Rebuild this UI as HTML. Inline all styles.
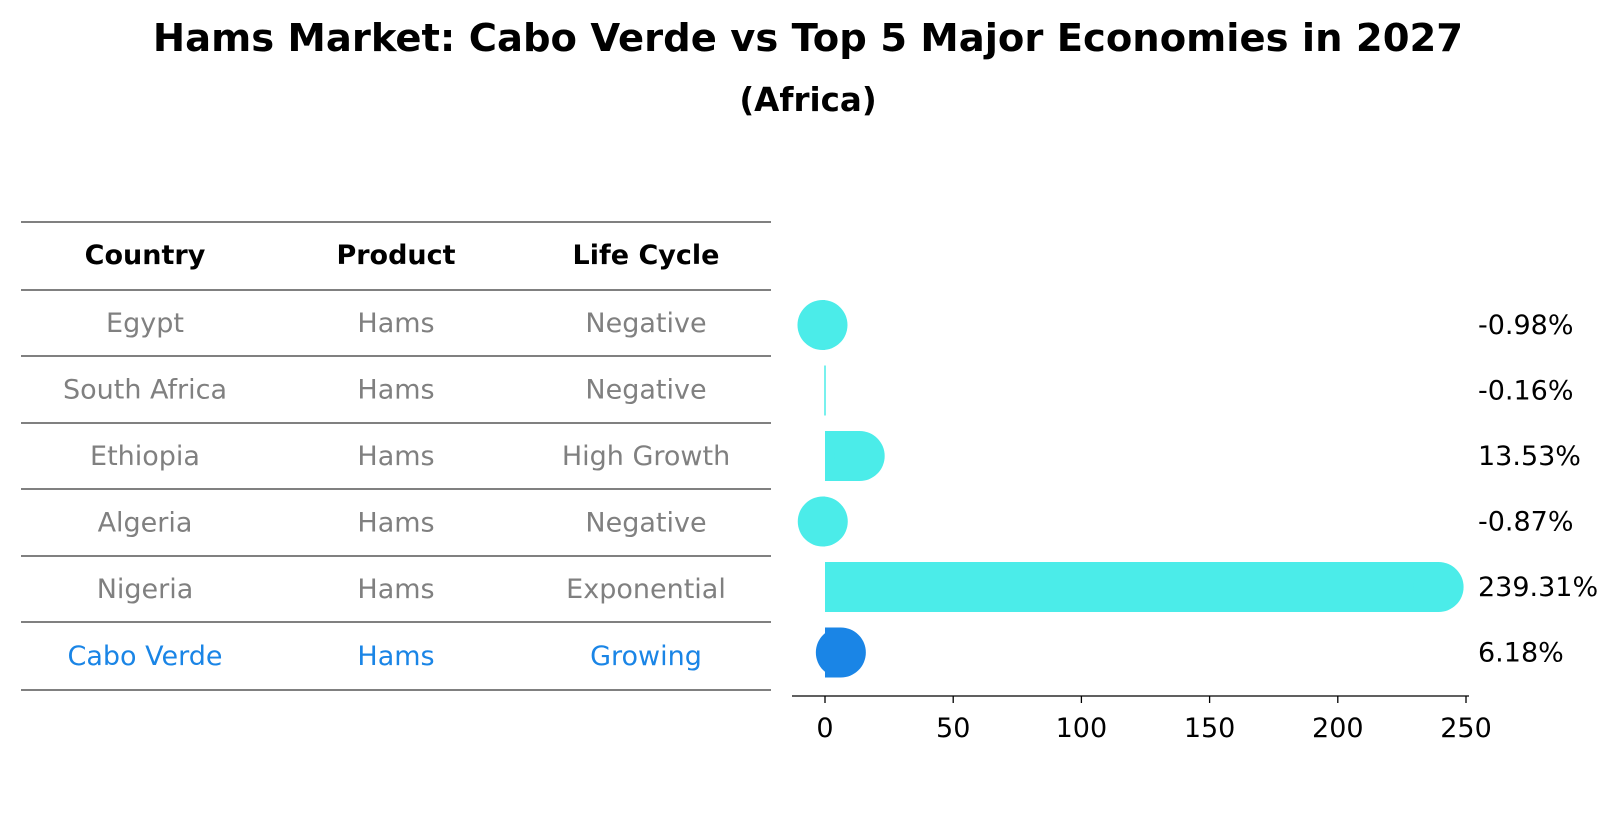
<!DOCTYPE html>
<html><head><meta charset="utf-8"><style>
body{margin:0;background:#fff;font-family:"Liberation Sans","DejaVu Sans",sans-serif}
svg text{font-family:"DejaVu Sans","Liberation Sans",sans-serif}
</style></head><body>
<svg id="c" width="1621" height="823" viewBox="0 0 1621 823" xmlns="http://www.w3.org/2000/svg">
<text x="808" y="51" text-anchor="middle" font-size="38.5" font-weight="bold">Hams Market: Cabo Verde vs Top 5 Major Economies in 2027</text>
<text x="808" y="111" text-anchor="middle" font-size="32.5" font-weight="bold">(Africa)</text>
<g id="tbl"></g>
<g id="bars"></g>
</svg>
<script>
const countries=["Egypt","South Africa","Ethiopia","Algeria","Nigeria","Cabo Verde"];
const products=["Hams","Hams","Hams","Hams","Hams","Hams"];
const lifecycle=["Negative","Negative","High Growth","Negative","Exponential","Growing"];
const values=[-0.98,-0.16,13.53,-0.87,239.31,6.18];
const valueLabels=["-0.98%","-0.16%","13.53%","-0.87%","239.31%","6.18%"];
const ticks=[0,50,100,150,200,250];
const NS="http://www.w3.org/2000/svg";
function mk(tag,attrs,parent,txt){const e=document.createElementNS(NS,tag);for(const k in attrs)e.setAttribute(k,attrs[k]);if(txt!==undefined)e.textContent=txt;parent.appendChild(e);return e;}
const tbl=document.getElementById('tbl'),bars=document.getElementById('bars');
const lineY=[222,290,356,423,489,556,622,690];
const colX=[145,396,646];
const FS=27;
lineY.forEach((y,i)=>{const l=mk('line',{x1:21,x2:771,y1:y,y2:y,stroke:'#000','stroke-width':1},tbl);

});
["Country","Product","Life Cycle"].forEach((h,i)=>{const t=mk('text',{x:colX[i],y:264,'text-anchor':'middle','font-size':FS,'font-weight':'bold'},tbl,h);

});
countries.forEach((c,r)=>{const y=(lineY[r+1]+lineY[r+2])/2+9;const col=r===5?'#1a85e6':'#808080';
[c,products[r],lifecycle[r]].forEach((v,i)=>{const t=mk('text',{x:colX[i],y:y,'text-anchor':'middle','font-size':FS,fill:col},tbl,v);

});});
const x0=825,x1=1466;
const xs=v=>x0+(x1-x0)*v/250;
const rowY=i=>325+i*65.5;
values.forEach((v,i)=>{const y=rowY(i);const col=i===5?'#1a85e6':'#4bece9';
if(Math.abs(v)<0.5){const l=mk('line',{x1:xs(0),x2:xs(0),y1:y-25,y2:y+25,stroke:col,'stroke-width':1.5},bars);

}
else{const r=mk('rect',{x:Math.min(xs(0),xs(v)),y:y-25,width:Math.abs(xs(v)-xs(0)),height:50,fill:col},bars);


const c=mk('circle',{cx:xs(v),cy:y,r:25,fill:col},bars);

}
const t=mk('text',{x:1478,y:y+9,'font-size':FS},bars,valueLabels[i]);

});
const ax=mk('line',{x1:792,x2:1469,y1:696,y2:696,stroke:'#000','stroke-width':1.3},bars);


ticks.forEach(t=>{const l=mk('line',{x1:xs(t),x2:xs(t),y1:696,y2:703,stroke:'#000','stroke-width':1.3},bars);


const tx=mk('text',{x:xs(t),y:737,'text-anchor':'middle','font-size':FS},bars,String(t));

});
</script>
</body></html>
